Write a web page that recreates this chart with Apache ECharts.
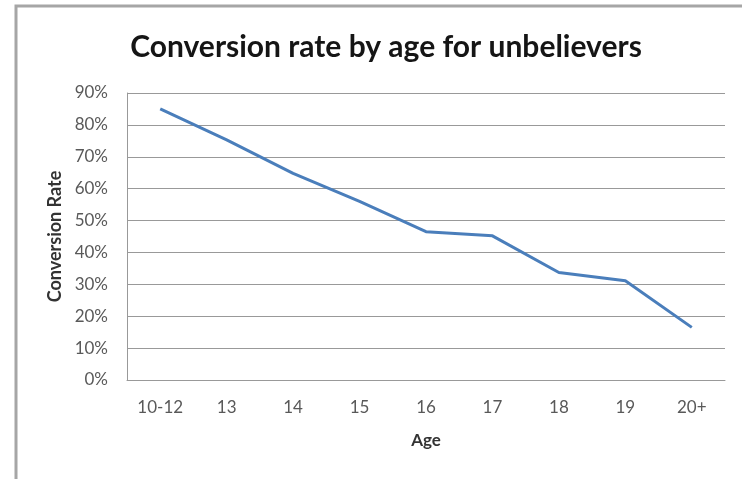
<!DOCTYPE html>
<html>
<head>
<meta charset="utf-8">
<script src="https://cdn.jsdelivr.net/npm/echarts@6/dist/echarts.min.js"></script>
<style>
  html, body { margin: 0; padding: 0; background: #fff; }
  #mychart { width: 742px; height: 479px; }
</style>
</head>
<body>
<div id="mychart"></div>
<script>
  var ages = ['10-12', '13', '14', '15', '16', '17', '18', '19', '20+']
  var rates = [85, 75.3, 64.8, 56, 46.5, 45.2, 33.7, 31.1, 16.5]

  var chart = echarts.init(document.getElementById('mychart'))
  chart.setOption({
    animation: false,
    graphic: [
      {
        type: 'rect',
        shape: { x: 16, y: 6, width: 740, height: 490 },
        style: { fill: 'none', stroke: '#a6a6a6', lineWidth: 3 }
      }
    ],
    title: {
      text: 'Conversion rate by age for unbelievers',
      left: 381,
      textAlign: 'center',
      top: 27,
      textStyle: {
        fontFamily: 'Lato',
        fontSize: 30,
        fontWeight: 'bold',
        color: '#151515'
      }
    },
    grid: {
      left: 127,
      right: 17,
      top: 93,
      bottom: 99
    },
    xAxis: {
      type: 'category',
      data: ages,
      name: 'Age',
      nameLocation: 'middle',
      nameGap: 52,
      nameTextStyle: {
        fontFamily: 'Lato',
        fontSize: 17,
        fontWeight: 'bold',
        color: '#333'
      },
      axisLine: { lineStyle: { color: '#999', width: 1 } },
      axisTick: { show: false },
      axisLabel: {
        fontFamily: 'Lato',
        fontSize: 17,
        color: '#595959',
        margin: 19
      }
    },
    yAxis: {
      type: 'value',
      min: 0,
      max: 90,
      interval: 10,
      name: 'Conversion Rate',
      nameLocation: 'middle',
      nameGap: 62,
      nameTextStyle: {
        fontFamily: 'Lato',
        fontSize: 18,
        fontWeight: 'bold',
        color: '#333'
      },
      axisLine: { show: true, lineStyle: { color: '#999', width: 1 } },
      axisTick: { show: false },
      axisLabel: {
        fontFamily: 'Lato',
        fontSize: 17,
        color: '#595959',
        margin: 19,
        formatter: '{value}%'
      },
      splitLine: { lineStyle: { color: '#999', width: 1 } }
    },
    series: [
      {
        type: 'line',
        data: rates,
        showSymbol: false,
        lineStyle: { color: '#4a7ebb', width: 3 },
        itemStyle: { color: '#4a7ebb' }
      }
    ]
  })
</script>
</body>
</html>
